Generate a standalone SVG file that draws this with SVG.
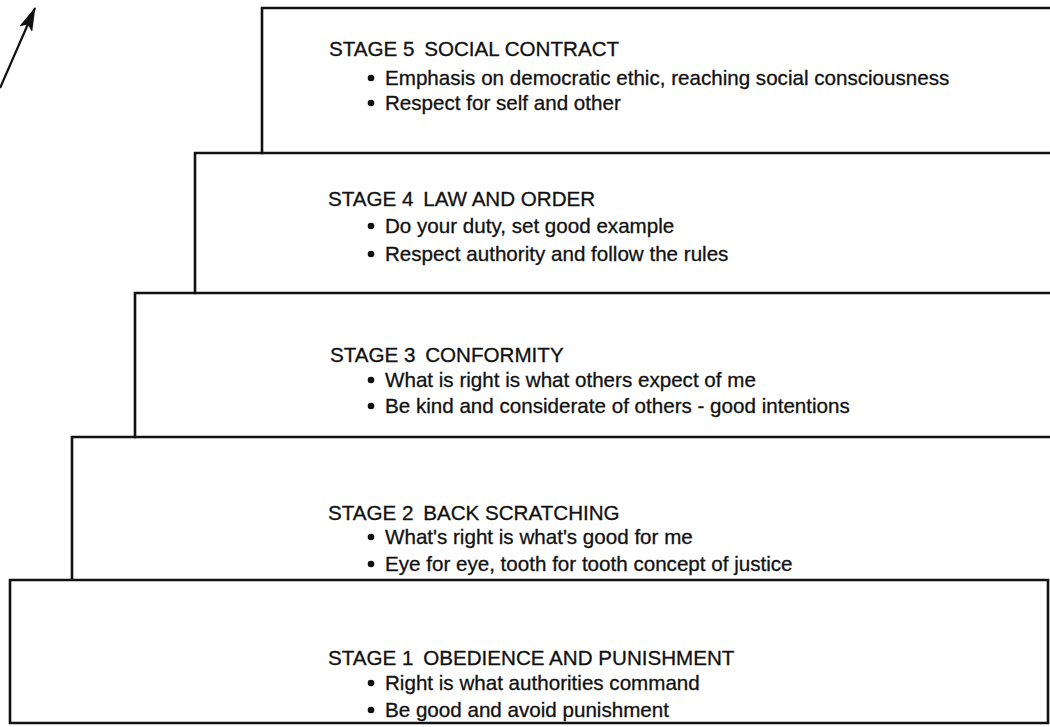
<svg xmlns="http://www.w3.org/2000/svg" width="1050" height="727" viewBox="0 0 1050 727">
  <style>
    .step { fill: none; stroke: #111; stroke-width: 2.6; stroke-linecap: square; }
    .title, .item { font-family: "Liberation Sans", Arial, sans-serif; font-size: 20.6px; fill: #111; stroke: #111; stroke-width: 0.3; }
    .dot { fill: #111; }
    .arrow { fill: none; stroke: #111; stroke-width: 2.2; }
  </style>
  <defs>
    <marker id="head" viewBox="0 0 24 14" refX="23" refY="7" markerWidth="24" markerHeight="14" markerUnits="userSpaceOnUse" orient="auto">
      <path d="M0,0 L24,7 L0,14 L5,7 Z" fill="#111"/>
    </marker>
  </defs>
  <rect width="1050" height="727" fill="#fff"/>

  <!-- upward arrow at the top left -->
  <g id="connectors">
    <path class="arrow" d="M0,88 L35,8" marker-end="url(#head)"/>
  </g>

  <!-- stage 5 (top step) -->
  <g id="stage5">
    <path class="step" d="M262,153 L262,8 L1050,8"/>
    <text class="title" x="329" y="56">STAGE 5 <tspan dx="4">SOCIAL CONTRACT</tspan></text>
    <circle class="dot" cx="371" cy="78" r="3.3"/>
    <text class="item" x="385" y="85">Emphasis on democratic ethic, reaching social consciousness</text>
    <circle class="dot" cx="371" cy="103" r="3.3"/>
    <text class="item" x="385" y="110">Respect for self and other</text>
  </g>

  <!-- stage 4 -->
  <g id="stage4">
    <path class="step" d="M195,293 L195,153 L1050,153"/>
    <text class="title" x="328" y="206">STAGE 4 <tspan dx="4">LAW AND ORDER</tspan></text>
    <circle class="dot" cx="371" cy="226" r="3.3"/>
    <text class="item" x="385" y="233">Do your duty, set good example</text>
    <circle class="dot" cx="371" cy="254" r="3.3"/>
    <text class="item" x="385" y="261">Respect authority and follow the rules</text>
  </g>

  <!-- stage 3 -->
  <g id="stage3">
    <path class="step" d="M135,437 L135,293 L1050,293"/>
    <text class="title" x="330" y="362">STAGE 3 <tspan dx="4">CONFORMITY</tspan></text>
    <circle class="dot" cx="371" cy="380" r="3.3"/>
    <text class="item" x="385" y="387">What is right is what others expect of me</text>
    <circle class="dot" cx="371" cy="406" r="3.3"/>
    <text class="item" x="385" y="413">Be kind and considerate of others - good intentions</text>
  </g>

  <!-- stage 2 -->
  <g id="stage2">
    <path class="step" d="M72,579 L72,437 L1050,437"/>
    <text class="title" x="328" y="520">STAGE 2 <tspan dx="4">BACK SCRATCHING</tspan></text>
    <circle class="dot" cx="371" cy="537" r="3.3"/>
    <text class="item" x="385" y="544">What's right is what's good for me</text>
    <circle class="dot" cx="371" cy="564" r="3.3"/>
    <text class="item" x="385" y="571">Eye for eye, tooth for tooth concept of justice</text>
  </g>

  <!-- stage 1 (bottom step, closed box) -->
  <g id="stage1">
    <path class="step" d="M10,580 L1048,580 L1048,723 L10,723 Z"/>
    <text class="title" x="328" y="665">STAGE 1 <tspan dx="4">OBEDIENCE AND PUNISHMENT</tspan></text>
    <circle class="dot" cx="371" cy="683" r="3.3"/>
    <text class="item" x="385" y="690">Right is what authorities command</text>
    <circle class="dot" cx="371" cy="710" r="3.3"/>
    <text class="item" x="385" y="717">Be good and avoid punishment</text>
  </g>
</svg>
